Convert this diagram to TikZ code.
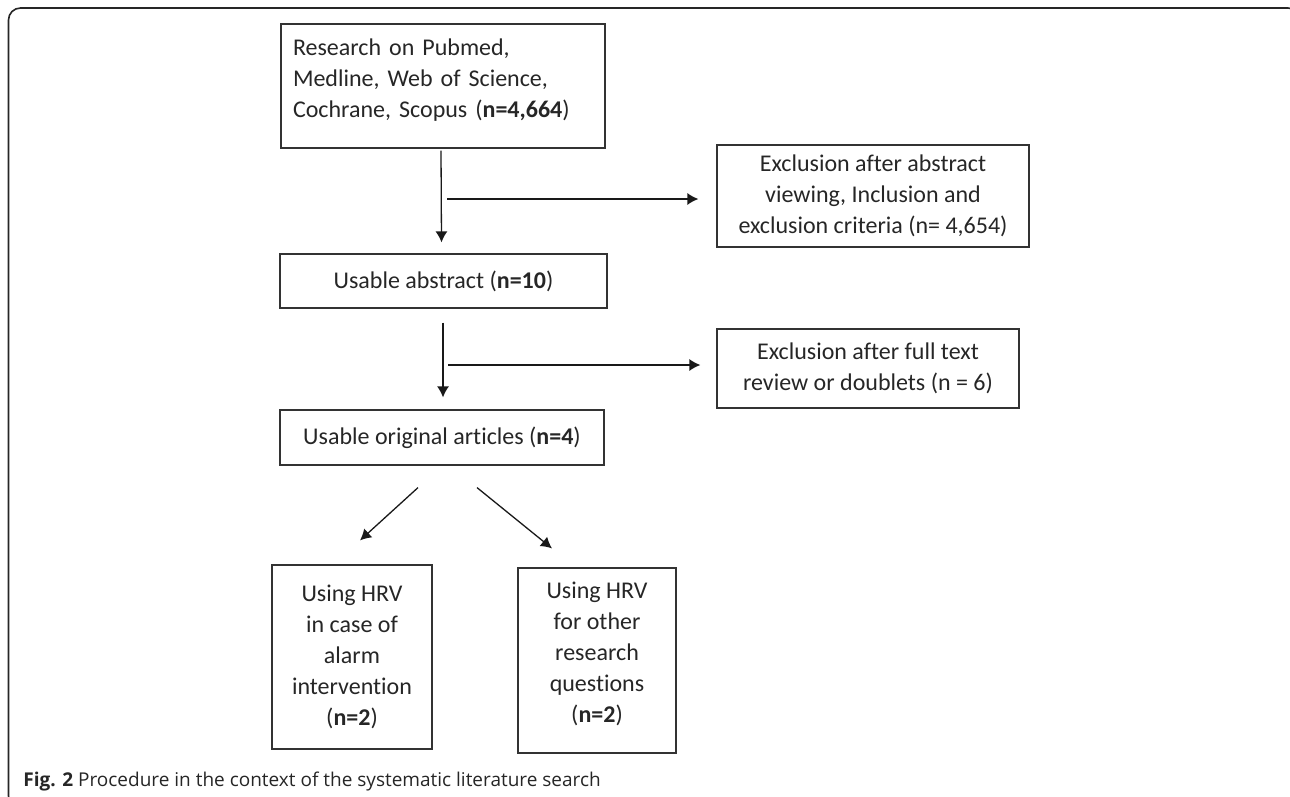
\documentclass[tikz,border=0pt]{standalone}
\usepackage{fontspec}
\setmainfont{Carlito}[Ligatures=NoCommon]
\newfontfamily\capfont{Open Sans}
\usetikzlibrary{arrows.meta}
\begin{document}
\begin{tikzpicture}[x=0.5pt,y=-0.5pt,
  box/.style={draw=black!80, line width=0.6pt, rectangle, inner sep=0pt,
    font=\fontsize{12}{15.5}\selectfont, text=black!85, align=center},
  arr/.style={line width=0.65pt, draw=black!90, -{Latex[length=5.5pt,width=6pt]}},
  frame/.style={line width=0.8pt, draw=black!85, rounded corners=6pt}]
\useasboundingbox (0,0) rectangle (1290,797);
\begin{scope}
\clip (0,0) rectangle (1290,797);
\draw[frame] (1300,40) -- (1300,8) -- (8.5,8) -- (8.5,808) -- (40,808);
\end{scope}

\node[box, minimum width=162pt, minimum height=62pt, text width=150pt, align=left] (search) at (443,86)
  {Research on Pubmed,\\ Medline, Web of Science,\\ Cochrane, Scopus (\textbf{n=4,664})\rule[-8pt]{0pt}{8pt}};
\node[box, minimum width=156pt, minimum height=51pt] (excl1) at (873,196)
  {Exclusion after abstract\\ viewing, Inclusion and\\ exclusion criteria (n= 4,654)};
\node[box, minimum width=163.5pt, minimum height=27pt] (abstr) at (443.5,281)
  {Usable abstract (\textbf{n=10})};
\node[box, minimum width=151pt, minimum height=39.5pt] (excl2) at (868,368.5)
  {Exclusion after full text\\ review or doublets (n = 6)};
\node[box, minimum width=162pt, minimum height=27.5pt] (orig) at (442,437.5)
  {Usable original articles (\textbf{n=4})};
\node[box, minimum width=80pt, minimum height=92pt] (alarm) at (352,657)
  {Using HRV\\ in case of\\ alarm\\ intervention\\ (\textbf{n=2})};
\node[box, minimum width=79pt, minimum height=92.5pt] (other) at (597,660.5)
  {Using HRV\\ for other\\ research\\ questions\\ (\textbf{n=2})\rule[-8pt]{0pt}{8pt}};

\coordinate (h1) at (447,199);
\coordinate (h2) at (448,365);
\draw[arr] ([xshift=-1pt,yshift=-1pt]search.south) -- ([xshift=-1pt,yshift=5.5pt]abstr.north);
\draw[arr] (h1) -- ([xshift=-9pt]excl1.west |- h1);
\draw[arr] ([xshift=-0.25pt,yshift=-7pt]abstr.south) -- ([xshift=0.5pt,yshift=6pt]orig.north);
\draw[arr] (h2) -- ([xshift=-8pt]excl2.west |- h2);
\draw[arr] ([xshift=-12pt,yshift=-11pt]orig.south) -- ([xshift=4pt,yshift=12pt]alarm.north);
\draw[arr] ([xshift=17.5pt,yshift=-11pt]orig.south) -- ([xshift=-22.5pt,yshift=9.5pt]other.north);

\node[anchor=base west, inner sep=0pt, font=\capfont\fontsize{9.5}{11}\selectfont, text=black!85] (cap) at (23,786)
  {\textbf{Fig. 2} Procedure in the context of the systematic literature search};
\end{tikzpicture}
\end{document}
